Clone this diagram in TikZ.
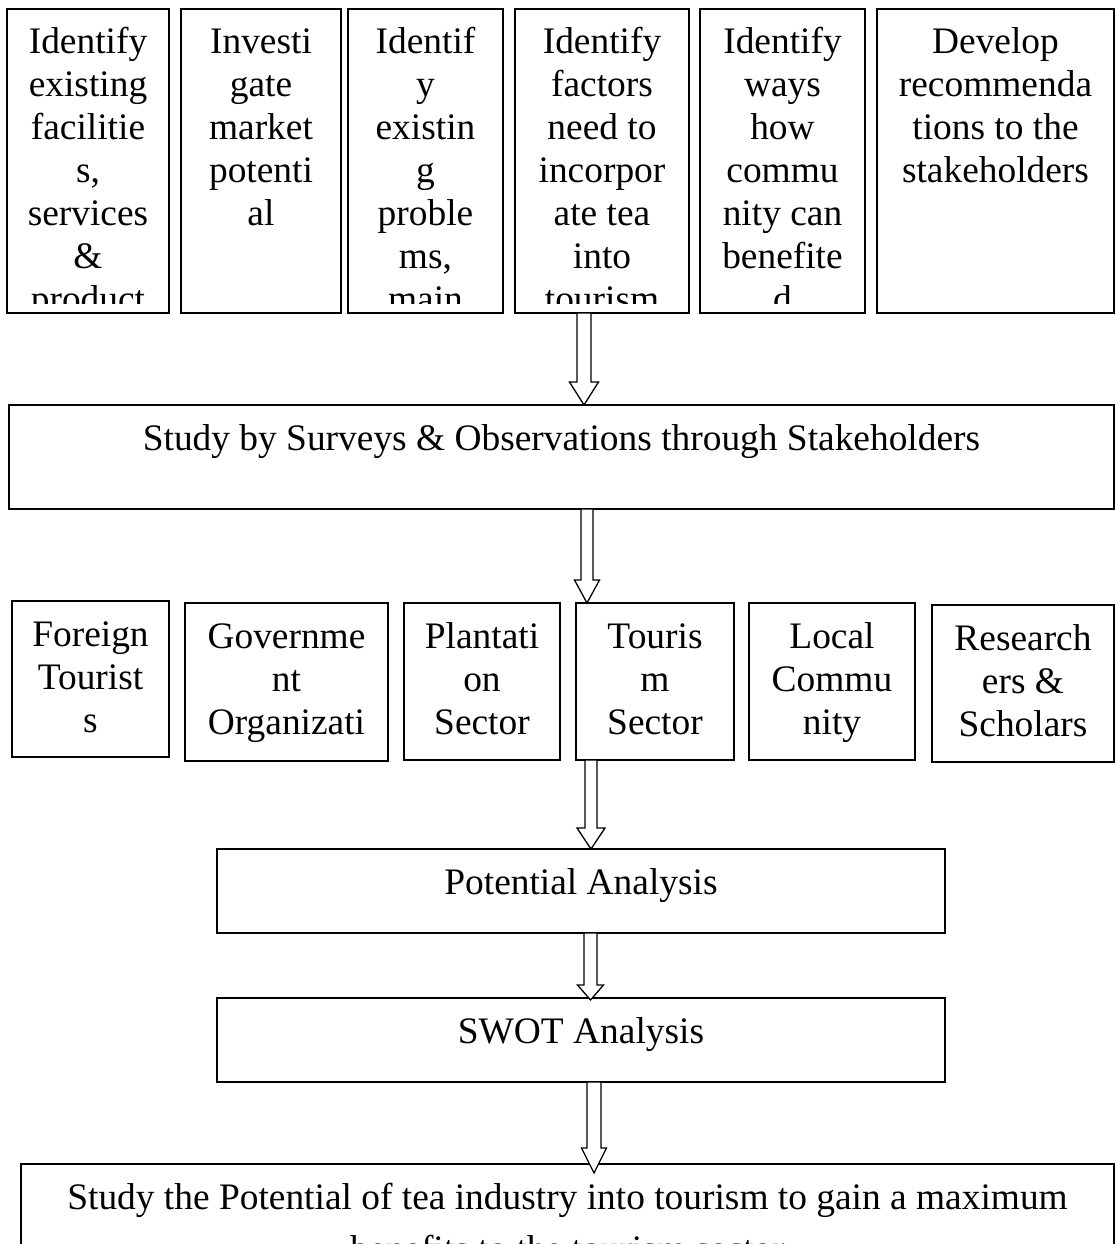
\documentclass[tikz,border=0pt]{standalone}
\usepackage{fontspec}
\setmainfont{Liberation Serif}
\usetikzlibrary{calc}
\tikzset{
  bx/.style={draw=black, line width=1.5pt, inner sep=0pt, outer sep=0pt},
  arr/.style={draw=black, line width=1.3pt, fill=white, line join=miter},
  txt/.style={anchor=base, inner sep=0pt, outer sep=0pt, font=\fontsize{37.4}{43}\selectfont},
}
% #1 name, #2 x1, #3 y1, #4 x2, #5 y2, #6 clip bottom y, #7 text
\newcommand\mybox[7]{%
  \pgfmathsetmacro\bw{#4-#2}%
  \pgfmathsetmacro\bh{#5-#3}%
  \node[bx, minimum width=\bw pt, minimum height=\bh pt, anchor=north west] (#1) at (#2,#3) {};
  \begin{scope}
    \clip (#2,#3) rectangle (#4,#6);
    \node[txt] (#1-t) at ($(#1.north)+(0,45)$) {\parbox[t]{1400pt}{\centering #7}};
  \end{scope}%
}
% #1 x, #2 from, #3 to, #4 shaft half width, #5 head half width, #6 head length, #7 tip overshoot
\newcommand\barrow[7]{%
  \coordinate (ax) at (#1,0);
  \draw[arr] ($(#2.south -| ax)+(-#4,0)$) -- ($(#3.north -| ax)+(-#4,#7-#6)$)
    -- ($(#3.north -| ax)+(-#5,#7-#6)$) -- ($(#3.north -| ax)+(0,#7)$)
    -- ($(#3.north -| ax)+(#5,#7-#6)$) -- ($(#3.north -| ax)+(#4,#7-#6)$)
    -- ($(#2.south -| ax)+(#4,0)$) -- cycle;
}
\begin{document}
\begin{tikzpicture}[x=1pt,y=-1pt]
\useasboundingbox (0,0) rectangle (1116,1244);
\fill[white] (0,0) rectangle (1116,1244);
\clip (0,0) rectangle (1116,1244);

% top row
\mybox{t1}{7}{9}{169}{313}{303}{Identify\\existing\\facilitie\\s,\\services\\\&\\product}
\mybox{t2}{181}{9}{341}{313}{303}{Investi\\gate\\market\\potenti\\al}
\mybox{t3}{348}{9}{503}{313}{303}{Identif\\y\\existin\\g\\proble\\ms,\\main}
\mybox{t4}{515}{9}{689}{313}{303}{Identify\\factors\\need to\\incorpor\\ate tea\\into\\tourism}
\mybox{t5}{700}{9}{865}{313}{303}{Identify\\ways\\how\\commu\\nity can\\benefite\\d}
\mybox{t6}{877}{9}{1114}{313}{303}{Develop\\recommenda\\tions to the\\stakeholders}

% study box
\mybox{study}{9}{405}{1114}{509}{508}{Study by Surveys \& Observations through Stakeholders}

% stakeholders row
\mybox{m1}{12}{601}{169}{757}{748}{Foreign\\Tourist\\s}
\mybox{m2}{185}{603}{388}{761}{750}{Governme\\nt\\Organizati\\ons}
\mybox{m3}{404}{603}{560}{760}{749}{Plantati\\on\\Sector}
\mybox{m4}{576}{603}{734}{760}{749}{Touris\\m\\Sector}
\mybox{m5}{749}{603}{915}{760}{749}{Local\\Commu\\nity}
\mybox{m6}{932}{605}{1114}{762}{751}{Research\\ers \&\\Scholars}

% analysis boxes
\mybox{pot}{217}{849}{945}{933}{932}{Potential Analysis}
\mybox{swot}{217}{998}{945}{1082}{1081}{SWOT Analysis}
\mybox{fin}{21}{1164}{1114}{1320}{1319}{Study the Potential of tea industry into tourism to gain a maximum\\[9pt]benefits to the tourism sector}

% block arrows
\barrow{584}{t4}{study}{7}{14.5}{23}{0}
\barrow{587}{study}{m4}{6}{12.5}{23}{0}
\barrow{591}{m4}{pot}{6}{14}{21}{0}
\barrow{590.5}{pot}{swot}{6.5}{13}{15}{2}
\barrow{594}{swot}{fin}{7}{12.5}{25}{9}
\end{tikzpicture}
\end{document}
